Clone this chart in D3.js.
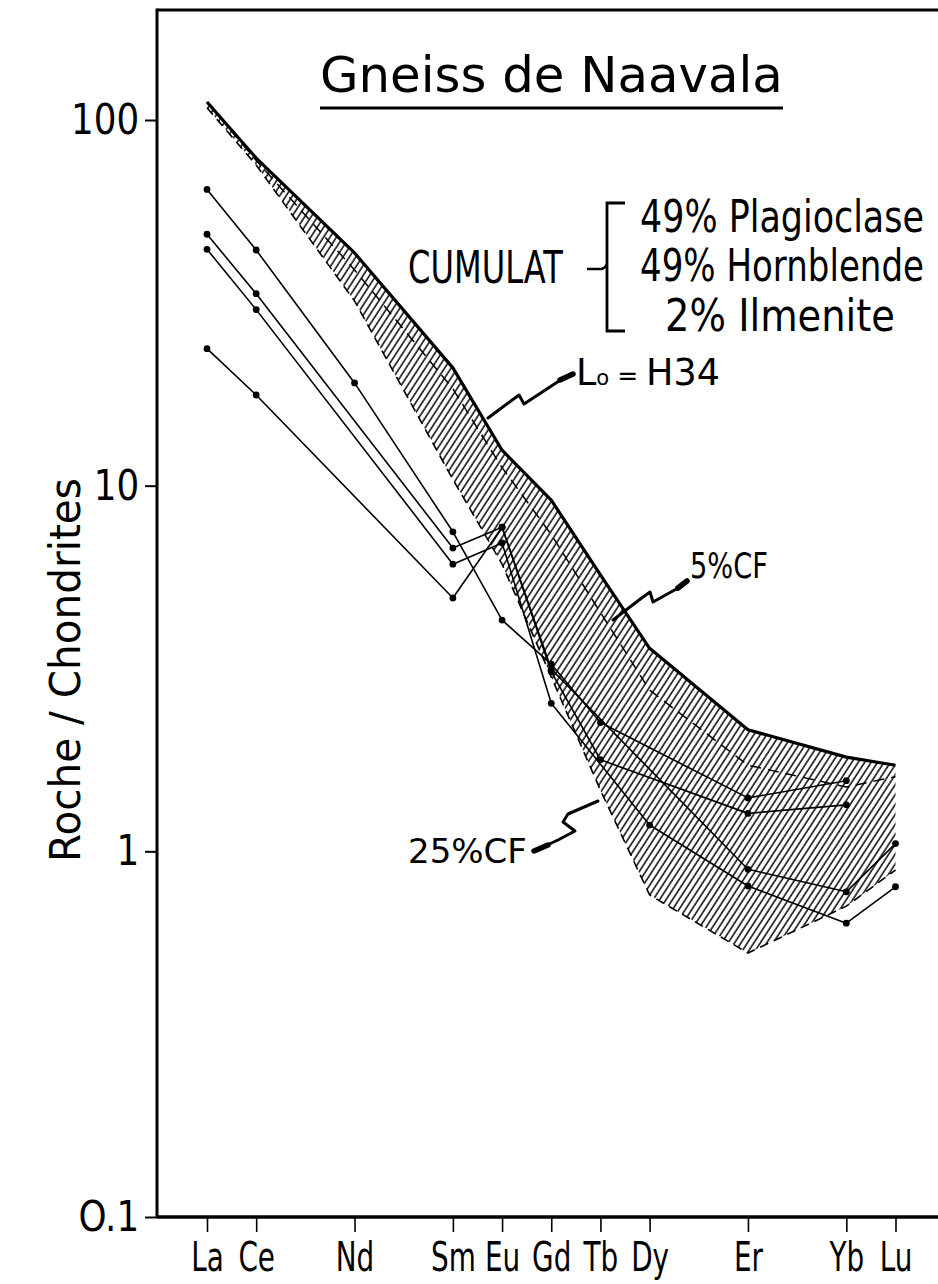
<!DOCTYPE html>
<html><head><meta charset="utf-8">
<script src="https://cdn.jsdelivr.net/npm/d3@7"></script>
<style>html,body{margin:0;padding:0;background:#fff}svg{display:block}</style>
</head><body>
<svg id="c" width="938" height="1284"></svg>
<script>
// ---------- data ----------
const elements = ["La","Ce","Nd","Sm","Eu","Gd","Tb","Dy","Er","Yb","Lu"];
const atomicNumbers = [57,58,60,62,63,64,65,66,68,70,71];
const yTickValues = [0.1, 1, 10, 100];
const yTickLabels = ["O.1", "1", "10", "100"];

// model band (Lo = H34 upper limit, 5% CF middle, 25% CF lower limit)
const bandH34  = [112, 78.7, 43.3, 21.0, 12.5, 9.13, 5.7, 3.59, 2.15, 1.81, 1.72];
const band5CF  = [112, 77.5, 38.9, 18.4, 11.2, 7.35, 4.5, 2.76, 1.72, 1.50, 1.60];
const band25CF = [108, 75.3, 32.0, 10.4, 6.1, 3.0, 1.47, 0.76, 0.527, 0.708, 0.889];

// samples (null = not analysed)
const sample1 = [64.6, 44.1, 19.1, 7.48, 4.29, 3.25, 2.25, null, 1.40, 1.56, null];
const sample2 = [48.7, 33.5, null, 6.75, 7.70, 3.10, 1.78, null, 1.27, 1.34, null];
const sample3 = [44.3, 30.3, null, 6.10, 6.97, 2.54, null, 1.18, 0.804, 0.636, 0.80];
const sample4 = [23.7, 17.7, null, 4.93, 7.70, 3.15, null, null, 0.893, 0.775, 1.05];
const samples = [sample1, sample2, sample3, sample4];

// ---------- setup ----------
const FONT = "'DejaVu Sans', 'Liberation Sans', sans-serif";
const svg = d3.select("#c");
const W = 938, H = 1284;
const x = d3.scaleLinear().domain([57, 71]).range([207, 895.5]);
const y = d3.scaleLog().domain([0.1, 100]).range([1217, 120]);
const plotLeft = 157, plotTop = y(200), plotBottom = y(0.1);

const defs = svg.append("defs");
const pat = defs.append("pattern").attr("id", "hatch")
  .attr("patternUnits", "userSpaceOnUse").attr("width", 5.4).attr("height", 10)
  .attr("patternTransform", "rotate(33)");
pat.append("line").attr("x1", 1).attr("y1", -1).attr("x2", 1).attr("y2", 11)
  .attr("stroke", "#000").attr("stroke-width", 1.45);

// ---------- band ----------
const area = d3.area()
  .x((d, i) => x(atomicNumbers[i]))
  .y0((d, i) => y(band25CF[i]))
  .y1(d => y(d));
svg.append("path").datum(bandH34).attr("d", area).attr("fill", "url(#hatch)");

const bline = d3.line().x((d, i) => x(atomicNumbers[i])).y(d => y(d));
svg.append("path").datum(band25CF).attr("d", bline).attr("fill", "none")
  .attr("stroke", "#000").attr("stroke-width", 1.6).attr("stroke-dasharray", "9,6");
svg.append("path").datum(band5CF).attr("d", bline).attr("fill", "none")
  .attr("stroke", "#000").attr("stroke-width", 1.5).attr("stroke-dasharray", "11,7");
svg.append("path").datum(bandH34).attr("d", bline).attr("fill", "none")
  .attr("stroke", "#000").attr("stroke-width", 3.2).attr("stroke-linejoin", "round");

// ---------- samples ----------
const sline = d3.line().x(d => x(d[0])).y(d => y(d[1]));
samples.forEach(s => {
  const pts = atomicNumbers.map((z, i) => [z, s[i]]).filter(p => p[1] != null);
  svg.append("path").datum(pts).attr("d", sline).attr("fill", "none")
    .attr("stroke", "#000").attr("stroke-width", 1.6).attr("stroke-linejoin", "round");
  svg.append("g").selectAll("circle").data(pts).join("circle")
    .attr("cx", d => x(d[0])).attr("cy", d => y(d[1])).attr("r", 3.4).attr("fill", "#000");
});

// ---------- axes ----------
const xAxis = d3.axisBottom(x).tickValues(atomicNumbers)
  .tickFormat((d, i) => elements[i]).tickSize(15).tickPadding(10);
const gx = svg.append("g").attr("transform", `translate(0,${plotBottom})`).call(xAxis);
gx.select(".domain").remove();
gx.selectAll(".tick line").attr("stroke", "#000").attr("stroke-width", 1.6);
gx.selectAll(".tick text").attr("font-family", FONT).attr("font-size", 41)
  .attr("fill", "#000").attr("transform", "scale(0.68,1)");

const yAxis = d3.axisLeft(y).tickValues(yTickValues)
  .tickFormat((d, i) => yTickLabels[i]).tickSize(12).tickPadding(6);
const gy = svg.append("g").attr("transform", `translate(${plotLeft},0)`).call(yAxis);
gy.select(".domain").remove();
gy.selectAll(".tick line").attr("stroke", "#000").attr("stroke-width", 2);
gy.selectAll(".tick text").attr("font-family", FONT).attr("font-size", 42)
  .attr("fill", "#000").attr("x", -21).attr("transform", "scale(0.85,1)");

// frame lines
svg.append("line").attr("x1", plotLeft).attr("x2", plotLeft).attr("y1", plotTop - 1.5).attr("y2", plotBottom)
  .attr("stroke", "#000").attr("stroke-width", 3);
svg.append("line").attr("x1", plotLeft).attr("x2", W + 5).attr("y1", plotBottom).attr("y2", plotBottom)
  .attr("stroke", "#000").attr("stroke-width", 3.5);
svg.append("line").attr("x1", plotLeft).attr("x2", W + 5).attr("y1", plotTop).attr("y2", plotTop)
  .attr("stroke", "#000").attr("stroke-width", 3);

// ---------- texts (fitted by horizontal scaling) ----------
function fit(x0, x1, base, size, build) {
  const g = svg.append("g");
  const t = g.append("text").attr("font-family", FONT).attr("font-size", size).attr("fill", "#000");
  build(t);
  const L = t.node().getComputedTextLength();
  g.attr("transform", `translate(${x0},${base}) scale(${(x1 - x0) / L},1)`);
  return g;
}
const plain = s => t => t.text(s);

// y label (rotated)
{
  const g = svg.append("g");
  const t = g.append("text").attr("font-family", FONT).attr("font-size", 42)
    .attr("text-anchor", "middle").text("Roche / Chondrites");
  const L = t.node().getComputedTextLength();
  g.attr("transform", `translate(80,670) rotate(-90) scale(${384 / L},1)`);
}

// title
fit(320, 783, 92, 50, plain("Gneiss de Naavala"));
svg.append("line").attr("x1", 320).attr("x2", 783).attr("y1", 108).attr("y2", 108)
  .attr("stroke", "#000").attr("stroke-width", 3);

// cumulat block
fit(408, 563, 283, 44, plain("CUMULAT"));
svg.append("path").attr("d", "M587,269 L600,269 Q605,269 607,264")
  .attr("fill", "none").attr("stroke", "#000").attr("stroke-width", 2.5);
svg.append("path").attr("d", "M625,203 L607,203 L607,331 L625,331")
  .attr("fill", "none").attr("stroke", "#000").attr("stroke-width", 2.8);
fit(640, 924, 232, 44, plain("49% Plagioclase"));
fit(640, 924, 281, 44, plain("49% Hornblende"));
fit(665, 895, 331, 44, plain("2% Ilmenite"));

// Lo = H34
fit(576, 720, 385, 38, t => {
  t.append("tspan").text("L");
  t.append("tspan").attr("font-size", 22).text("o");
  t.append("tspan").attr("font-size", 26).text(" = ");
  t.append("tspan").text("H34");
});

fit(690, 768, 578, 36, plain("5%CF"));
fit(408, 527, 863, 34, plain("25%CF"));

// leaders
function leader(pts, w) {
  svg.append("path").attr("d", d3.line()(pts)).attr("fill", "none").attr("stroke", "#000")
    .attr("stroke-width", w).attr("stroke-linecap", "round").attr("stroke-linejoin", "round");
}
leader([[488, 418], [519, 395], [524, 404], [562, 379]], 3);
leader([[560, 380], [573, 374]], 5.5);
leader([[613, 620], [643, 597], [650, 592], [653, 602], [680, 587]], 3);
leader([[678, 588], [687, 581]], 5.5);
leader([[545, 846], [558, 840], [575, 831], [563, 822], [568, 814], [598, 801]], 3);
leader([[534, 851], [548, 845]], 5.5);
</script>
</body></html>
